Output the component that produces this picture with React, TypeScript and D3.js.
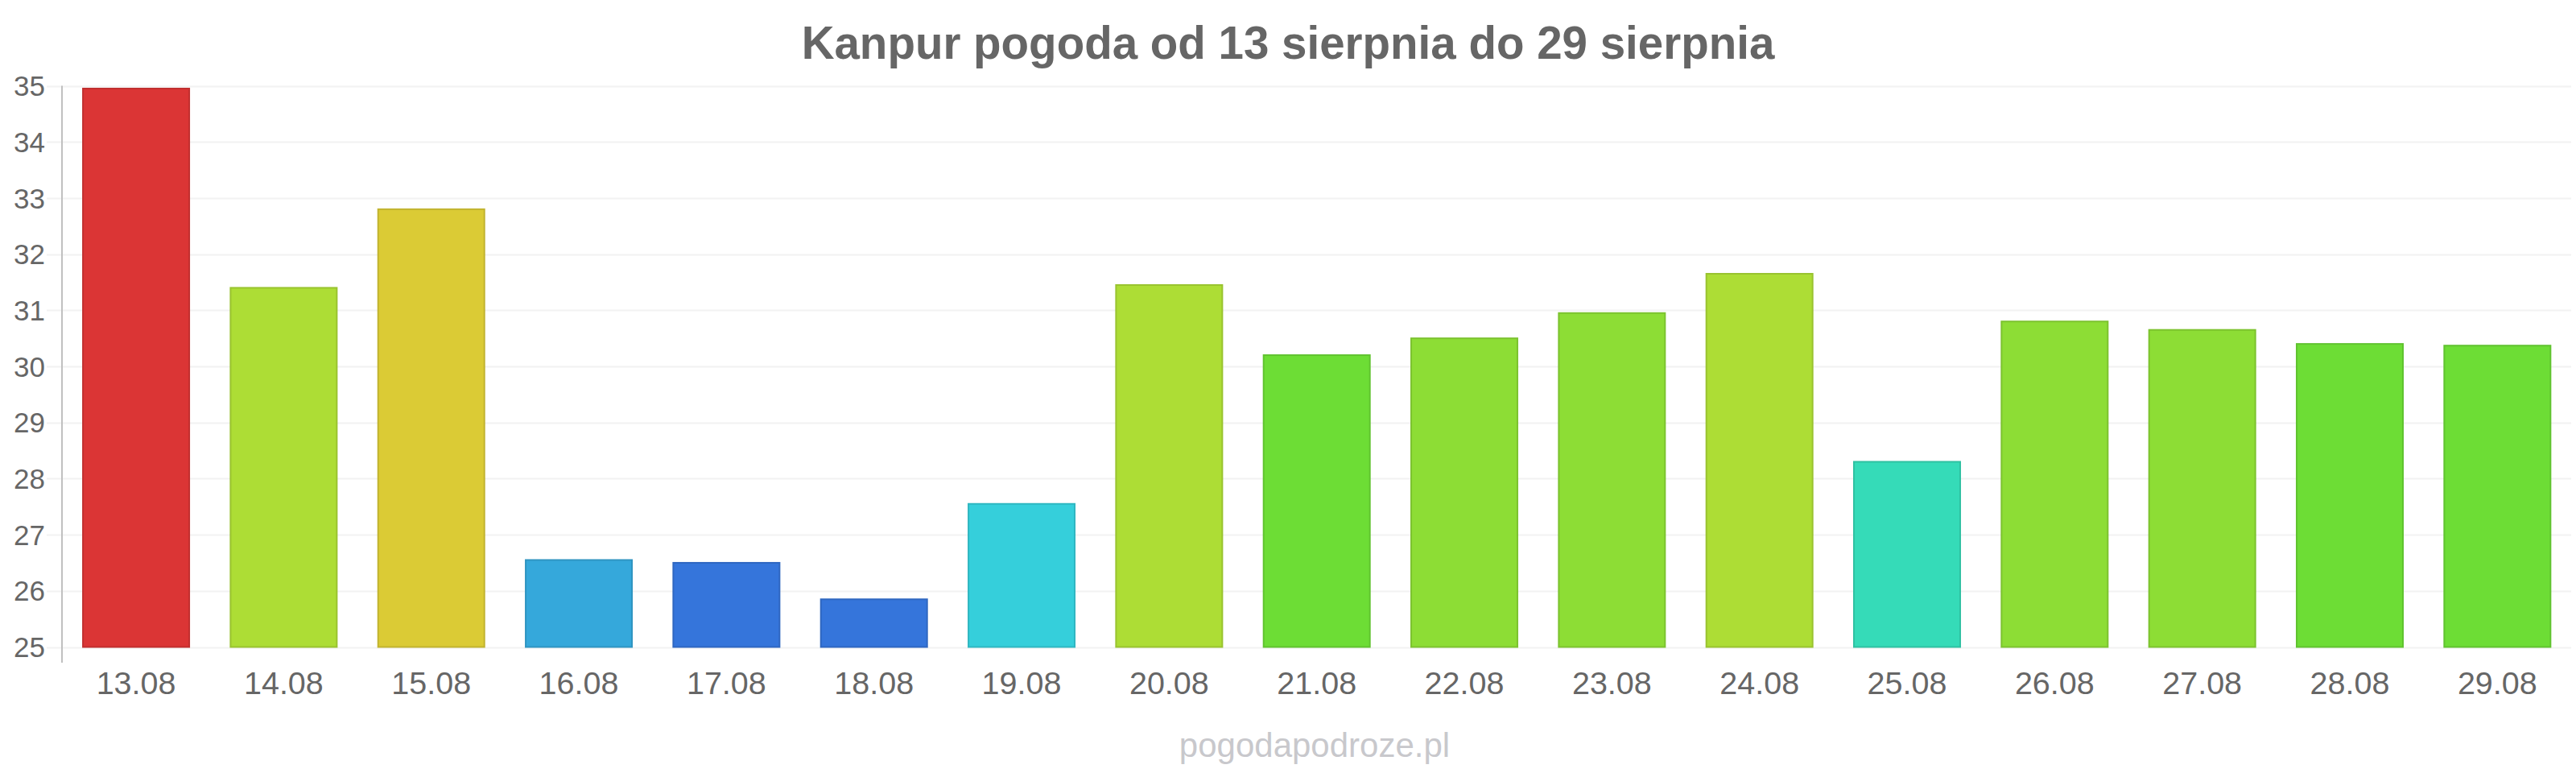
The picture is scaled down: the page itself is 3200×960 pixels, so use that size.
import React from "react";
import * as d3 from "d3";

const categories = ["13.08","14.08","15.08","16.08","17.08","18.08","19.08","20.08","21.08","22.08","23.08","24.08","25.08","26.08","27.08","28.08","29.08"];
const values = [34.95, 31.4, 32.8, 26.55, 26.5, 25.85, 27.55, 31.45, 30.2, 30.5, 30.95, 31.65, 28.3, 30.8, 30.65, 30.4, 30.37];
const barColors = ["#db3535","#addd35","#dbcb35","#35a8db","#3575db","#3575db","#35cfdb","#addd35","#6ddd35","#8ddd35","#8ddd35","#addd35","#35dbb8","#8ddd35","#8ddd35","#6ddd35","#6ddd35"];
const yTicks = [25, 26, 27, 28, 29, 30, 31, 32, 33, 34, 35];
const title = "Kanpur pogoda od 13 sierpnia do 29 sierpnia";
const credit = "pogodapodroze.pl";

const W = 3200, H = 960;
const plotLeft = 77.4, plotRight = 3194, plotTop = 106.5, plotBottom = 803.5;
const FONT = "'Liberation Sans', Arial, Helvetica, sans-serif";

export default function App() {
  const xc = d3.scaleBand<string>().domain(categories).range([plotLeft, plotRight]);
  const y = d3.scaleLinear().domain([25, 35]).range([plotBottom, plotTop]);
  const bw = xc.bandwidth() * 0.72;
  return (
    <svg width={W} height={H} viewBox={`0 0 ${W} ${H}`} style={{ position: "absolute", left: 0, top: 0, background: "#fff" }} fontFamily={FONT}>
      <rect x={0} y={0} width={W} height={H} fill="#fff" />
      {yTicks.map((t) => (
        <g key={t}>
          <line x1={58} x2={plotRight} y1={Math.round(y(t)) + 0.5} y2={Math.round(y(t)) + 0.5} stroke="#f2f2f2" strokeWidth={2} />
          <text x={56} y={y(t)} dy="0.36em" textAnchor="end" fontSize={35} fill="#666">{t}</text>
        </g>
      ))}
      <line x1={77} x2={77} y1={plotTop} y2={823} stroke="#c0c0c0" strokeWidth={2} />
      {categories.map((c, i) => {
        const cx = (xc(c) as number) + xc.bandwidth() / 2;
        const fill = barColors[i];
        const stroke = d3.color(fill)!.darker(0.35).formatHex();
        return (
          <rect key={c} x={cx - bw / 2} y={y(values[i])} width={bw} height={plotBottom - y(values[i])} fill={fill} stroke={stroke} strokeWidth={2} />
        );
      })}
      {categories.map((c) => (
        <text key={c} x={(xc(c) as number) + xc.bandwidth() / 2} y={862} textAnchor="middle" fontSize={39.5} fill="#666">{c}</text>
      ))}
      <text x={1600} y={72.5} textAnchor="middle" fontSize={56.5} fontWeight="bold" fill="#666">{title}</text>
      <text x={1633} y={940} textAnchor="middle" fontSize={42} fill="#c8c8cc">{credit}</text>
    </svg>
  );
}
